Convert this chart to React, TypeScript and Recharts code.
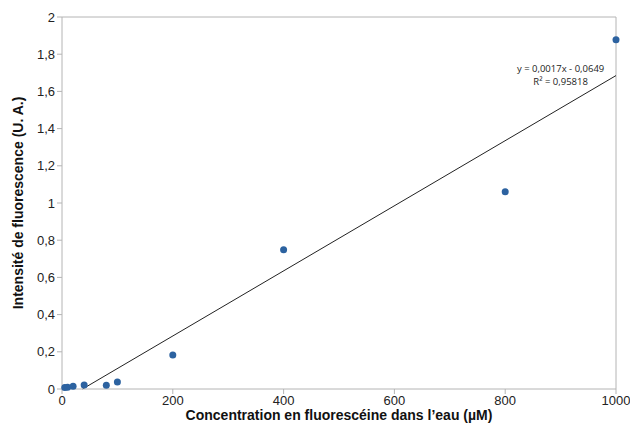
import {
  ScatterChart,
  Scatter,
  XAxis,
  YAxis,
  ReferenceLine,
  ReferenceDot,
} from 'recharts';

// concentration (µM) and fluorescence intensity (U. A.)
const concentrations = [5, 10, 20, 40, 80, 100, 200, 400, 800, 1000];
const intensities = [0.008, 0.01, 0.015, 0.022, 0.02, 0.037, 0.183, 0.748, 1.06, 1.878];

const xTicks = [0, 200, 400, 600, 800, 1000];
const yTicks = [0, 0.2, 0.4, 0.6, 0.8, 1, 1.2, 1.4, 1.6, 1.8, 2];

// linear trendline as drawn on the sheet
const trendSlope = 0.00175;
const trendIntercept = -0.0649;
const equationLines = ['y = 0,0017x - 0,0649', 'R² = 0,95818'];

const points = concentrations.map((x, i) => ({ x, y: intensities[i] }));
const trendStartX = -trendIntercept / trendSlope;
const trendEndX = 1000;
const trendEndY = trendSlope * trendEndX + trendIntercept;

const axisColor = '#b4b4b4';
const font = '"Liberation Sans", Arial, sans-serif';
const fmt = (v: number) => String(v).replace('.', ',');

const EquationLabel = (props: any) => {
  const { cx, cy } = props;
  return (
    <g fontSize={9.5} fill="#222" fontFamily='"Open Sans", sans-serif' textAnchor="middle">
      <text x={cx} y={cy - 3}>{equationLines[0]}</text>
      <text x={cx} y={cy + 10}>{equationLines[1]}</text>
    </g>
  );
};

export default function App() {
  return (
    <div style={{ position: 'absolute', left: 0, top: 0, background: '#fff' }}>
      <ScatterChart
        width={630}
        height={437}
        margin={{ top: 17, right: 14, bottom: 0, left: 0 }}
        style={{ fontFamily: font }}
      >
        <XAxis
          type="number"
          dataKey="x"
          domain={[0, 1000]}
          ticks={xTicks}
          height={48}
          stroke={axisColor}
          tickSize={5}
          tick={{ fill: '#222', fontSize: 13 }}
          label={{
            value: 'Concentration en fluorescéine dans l’eau (µM)',
            position: 'insideBottom',
            offset: 17,
            style: { fill: '#111', fontSize: 14, fontWeight: 'bold' },
          }}
        />
        <YAxis
          type="number"
          dataKey="y"
          domain={[0, 2]}
          ticks={yTicks}
          width={62}
          stroke={axisColor}
          tickSize={5}
          tickFormatter={fmt}
          tick={{ fill: '#222', fontSize: 13 }}
          label={{
            value: 'Intensité de fluorescence (U. A.)',
            angle: -90,
            position: 'insideLeft',
            offset: 18,
            style: { textAnchor: 'middle', fill: '#111', fontSize: 14, fontWeight: 'bold' },
          }}
        />
        <ReferenceLine y={2} stroke={axisColor} />
        <ReferenceLine x={1000} stroke={axisColor} />
        <ReferenceLine
          segment={[
            { x: trendStartX, y: 0 },
            { x: trendEndX, y: trendEndY },
          ]}
          stroke="#222"
          strokeWidth={1}
        />
        <ReferenceDot x={900} y={1.69} r={0} stroke="none" fill="none" shape={EquationLabel} />
        <Scatter
          data={points}
          fill="#2c62a0"
          isAnimationActive={false}
          shape={(p: any) => <circle cx={p.cx} cy={p.cy} r={3.5} fill="#2c62a0" />}
        />
      </ScatterChart>
    </div>
  );
}
